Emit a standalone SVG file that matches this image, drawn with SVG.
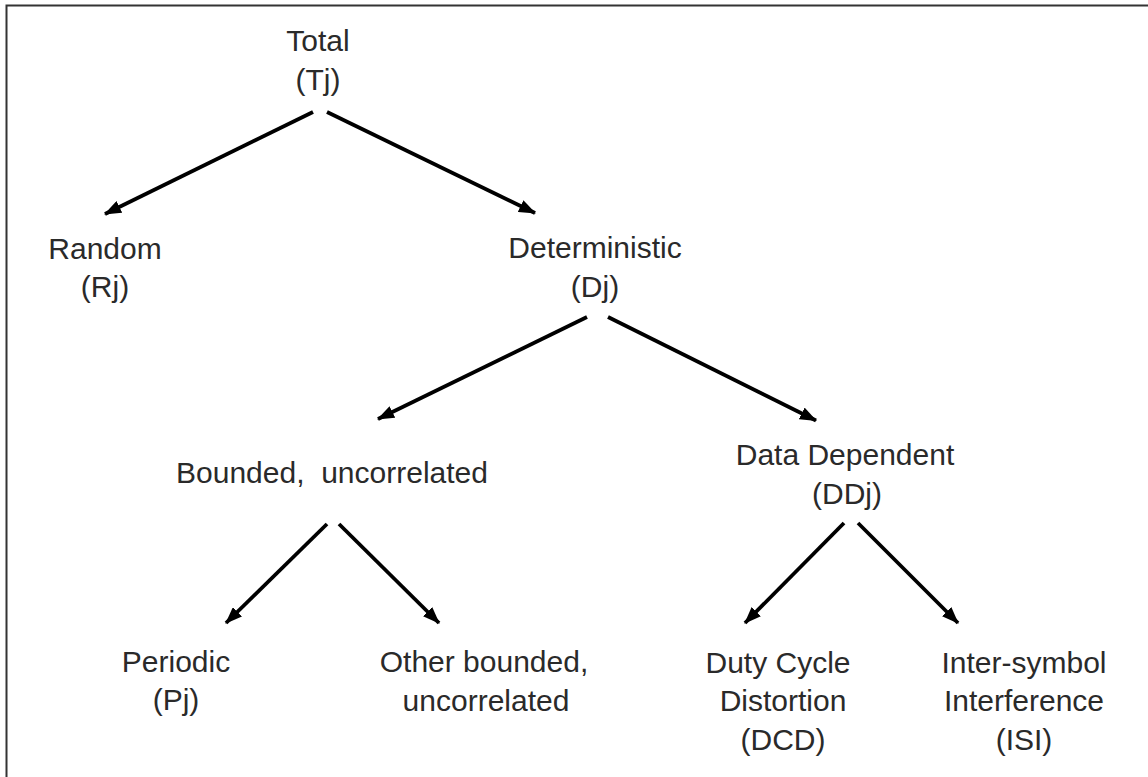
<svg xmlns="http://www.w3.org/2000/svg" width="1148" height="777" viewBox="0 0 1148 777">
<style>
.t{font-family:"Liberation Sans",Arial,sans-serif;font-size:30px;fill:#2a2a2a;text-anchor:middle}
.c{stroke:#000;stroke-width:3.8;fill:none;marker-end:url(#ah)}
</style>
<defs>
<marker id="ah" markerUnits="userSpaceOnUse" markerWidth="17" markerHeight="13" refX="16" refY="6.5" orient="auto" viewBox="0 0 17 13">
<path d="M0,0 L17,6.5 L0,13 z" fill="#000"/>
</marker>
</defs>
<rect width="1148" height="777" fill="#fff"/>
<path d="M6.5,777 V5.5 H1148" fill="none" stroke="#333" stroke-width="2"/>
<g id="connectors">
<line class="c" x1="313" y1="112" x2="105" y2="214"/>
<line class="c" x1="327" y1="112" x2="535" y2="213"/>
<line class="c" x1="587" y1="317" x2="378" y2="419"/>
<line class="c" x1="608" y1="317" x2="816" y2="420.5"/>
<line class="c" x1="327" y1="524" x2="226" y2="623"/>
<line class="c" x1="339" y1="524" x2="439" y2="623"/>
<line class="c" x1="844" y1="523" x2="745" y2="623"/>
<line class="c" x1="858" y1="523" x2="958" y2="623"/>
</g>
<g id="total"><text class="t" x="318" y="51">Total</text><text class="t" x="318" y="90">(Tj)</text></g>
<g id="random"><text class="t" x="105" y="259">Random</text><text class="t" x="105" y="297">(Rj)</text></g>
<g id="deterministic"><text class="t" x="595" y="257.5">Deterministic</text><text class="t" x="595" y="297">(Dj)</text></g>
<g id="bounded"><text class="t" x="332" y="483" xml:space="preserve">Bounded,  uncorrelated</text></g>
<g id="datadependent"><text class="t" x="845" y="464.5">Data Dependent</text><text class="t" x="847" y="504">(DDj)</text></g>
<g id="periodic"><text class="t" x="176" y="672">Periodic</text><text class="t" x="176" y="710">(Pj)</text></g>
<g id="otherbounded"><text class="t" x="484" y="672">Other bounded,</text><text class="t" x="486" y="710.5">uncorrelated</text></g>
<g id="dcd"><text class="t" x="778" y="672.5">Duty Cycle</text><text class="t" x="783" y="711">Distortion</text><text class="t" x="783" y="750">(DCD)</text></g>
<g id="isi"><text class="t" x="1024" y="672.5">Inter-symbol</text><text class="t" x="1024" y="711">Interference</text><text class="t" x="1024" y="750">(ISI)</text></g>
</svg>
